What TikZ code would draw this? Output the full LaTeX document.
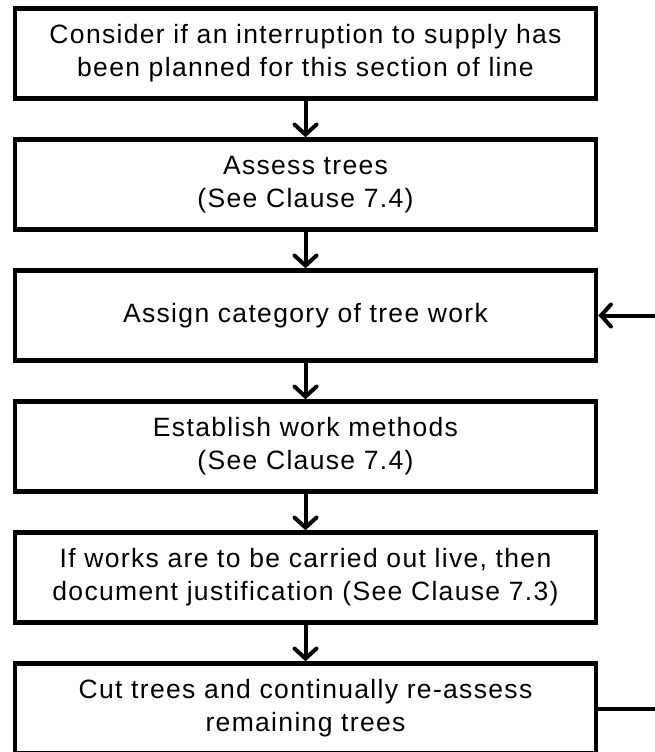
\documentclass[tikz,border=0pt]{standalone}
\usepackage{fontspec}
\setmainfont[LetterSpace=5]{Liberation Sans}
\usetikzlibrary{positioning,arrows.meta}

\begin{document}
\begin{tikzpicture}[node distance=36.5pt, every node/.style={font=\fontsize{26.5}{33}\selectfont},
  stagebox/.style={rectangle, draw, line width=4.5pt, minimum width=581pt, minimum height=90pt, align=center},
  flow/.style={line width=4pt, -{Straight Barb[length=10pt,width=22pt,line cap=round]}}]
\useasboundingbox (0,0) rectangle (654pt,-752pt);
\node (plan) [stagebox] at (305.5pt,-53.5pt) {Consider if an interruption to supply has\\been planned for this section of line};
\node (assess) [stagebox, below=of plan] {Assess trees\\(See Clause 7.4)};
\node (assign) [stagebox, below=of assess] {Assign category of tree work};
\node (method) [stagebox, below=of assign] {Establish work methods\\(See Clause 7.4)};
\node (live) [stagebox, below=of method] {If works are to be carried out live, then\\document justification (See Clause 7.3)};
\node (cut) [stagebox, below=of live] {Cut trees and continually re-assess\\remaining trees};
\coordinate (loop) at (664pt,-500pt);
\draw[flow] (plan) -- (assess);
\draw[flow] (assess) -- (assign);
\draw[flow] (assign) -- (method);
\draw[flow] (method) -- (live);
\draw[flow] (live) -- (cut);
\draw[flow] (cut.east) -| (loop) |- (assign.east);
\end{tikzpicture}
\end{document}
